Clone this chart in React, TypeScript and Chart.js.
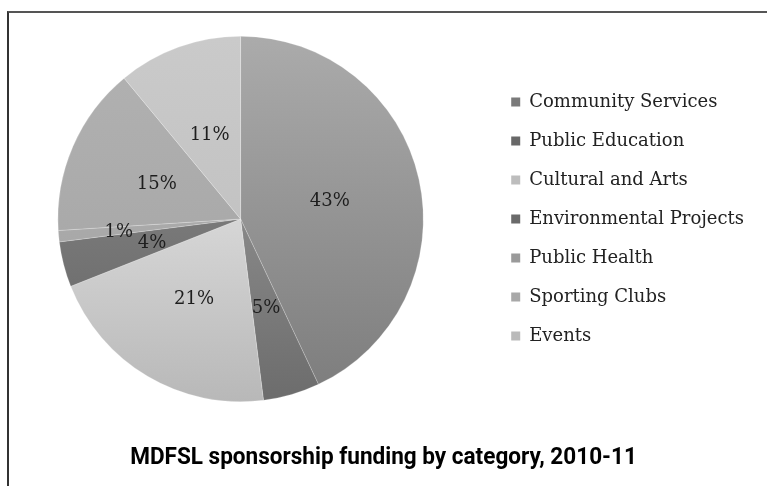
import React, { useEffect, useRef } from "react";
import { Chart, registerables } from "chart.js";

Chart.register(...registerables);

const categories = [
  "Community Services",
  "Public Education",
  "Cultural and Arts",
  "Environmental Projects",
  "Public Health",
  "Sporting Clubs",
  "Events",
];
const shares = [43, 5, 21, 4, 1, 15, 11];
const titleText = "MDFSL sponsorship funding by category, 2010-11";

const sliceTop = ["#ababab", "#a4a4a4", "#f4f4f4", "#909090", "#b8b8b8", "#b2b2b2", "#cacaca"];
const sliceBottom = ["#7c7c7c", "#6c6c6c", "#b8b8b8", "#626262", "#9c9c9c", "#a2a2a2", "#bcbcbc"];
const markerColors = ["#7a7a7a", "#686868", "#bdbdbd", "#6a6a6a", "#9a9a9a", "#a8a8a8", "#bababa"];

const labelPlugin = {
  id: "sliceLabels",
  afterDatasetsDraw(chart: any) {
    const meta = chart.getDatasetMeta(0);
    const c = chart.ctx;
    c.save();
    c.font = "18px 'DejaVu Serif'";
    c.fillStyle = "#1e1e1e";
    c.textAlign = "center";
    c.textBaseline = "middle";
    meta.data.forEach((arc: any, i: number) => {
      const { x, y, startAngle, endAngle, outerRadius } = arc.getProps(
        ["x", "y", "startAngle", "endAngle", "outerRadius"],
        true
      );
      const mid = (startAngle + endAngle) / 2;
      const r = shares[i] < 2 ? outerRadius * 0.67 : outerRadius * 0.5;
      c.fillText(shares[i] + "%", x + Math.cos(mid) * r, y + 2 + Math.sin(mid) * r);
    });
    c.restore();
  },
};

function ChartView() {
  const ref = useRef<HTMLCanvasElement | null>(null);
  useEffect(() => {
    if (!ref.current) return;
    const chart = new Chart(ref.current, {
      type: "pie",
      data: {
        labels: categories,
        datasets: [
          {
            data: shares,
            borderWidth: 0.6,
            borderColor: "rgba(255,255,255,0.35)",
            backgroundColor: (ctx: any) => {
              const ch = ctx.chart;
              const area = ch.chartArea;
              const i = ctx.dataIndex ?? 0;
              if (!area) return sliceTop[i];
              const g = ch.ctx.createLinearGradient(0, area.top, 0, area.bottom);
              g.addColorStop(0, sliceTop[i]);
              g.addColorStop(1, sliceBottom[i]);
              return g;
            },
          },
        ],
      },
      options: {
        responsive: false,
        animation: false,
        layout: { padding: { left: 0, right: 4, top: 36, bottom: 84 } },
        plugins: {
          tooltip: { enabled: false },
          title: { display: false },
          legend: {
            position: "right",
            fullSize: false,
            labels: {
              boxWidth: 9,
              boxHeight: 9,
              padding: 21,
              color: "#222",
              font: { family: "'DejaVu Serif'", size: 18 },
              generateLabels: () =>
                categories.map((c, i) => ({
                  text: c,
                  fillStyle: markerColors[i],
                  strokeStyle: markerColors[i],
                  lineWidth: 0,
                  hidden: false,
                  index: i,
                  fontColor: "#222",
                })),
            },
          },
        },
      },
      plugins: [labelPlugin],
    });
    return () => chart.destroy();
  }, []);
  return <canvas ref={ref} width={767} height={486} style={{ width: 767, height: 486, display: "block" }} />;
}

export default function App() {
  return (
    <div style={{ position: "fixed", left: 0, top: 0, width: 767, height: 486, background: "#fff", overflow: "hidden" }}>
      <div
        style={{
          position: "absolute",
          left: 7,
          top: 11,
          width: 800,
          height: 500,
          borderTop: "2px solid #555",
          borderLeft: "2px solid #333",
        }}
      />
      <div style={{ position: "absolute", left: -9, top: 0 }}>
        <ChartView />
      </div>
      <div
        style={{
          position: "absolute",
          left: 0,
          width: 767,
          top: 443,
          textAlign: "center",
          fontFamily: "Roboto, sans-serif",
          fontWeight: "bold",
          fontSize: 23,
          lineHeight: "28px",
          color: "#000",
          transform: "scaleX(0.98)",
          transformOrigin: "383.5px 50%",
          whiteSpace: "nowrap",
        }}
      >
        {titleText}
      </div>
    </div>
  );
}
